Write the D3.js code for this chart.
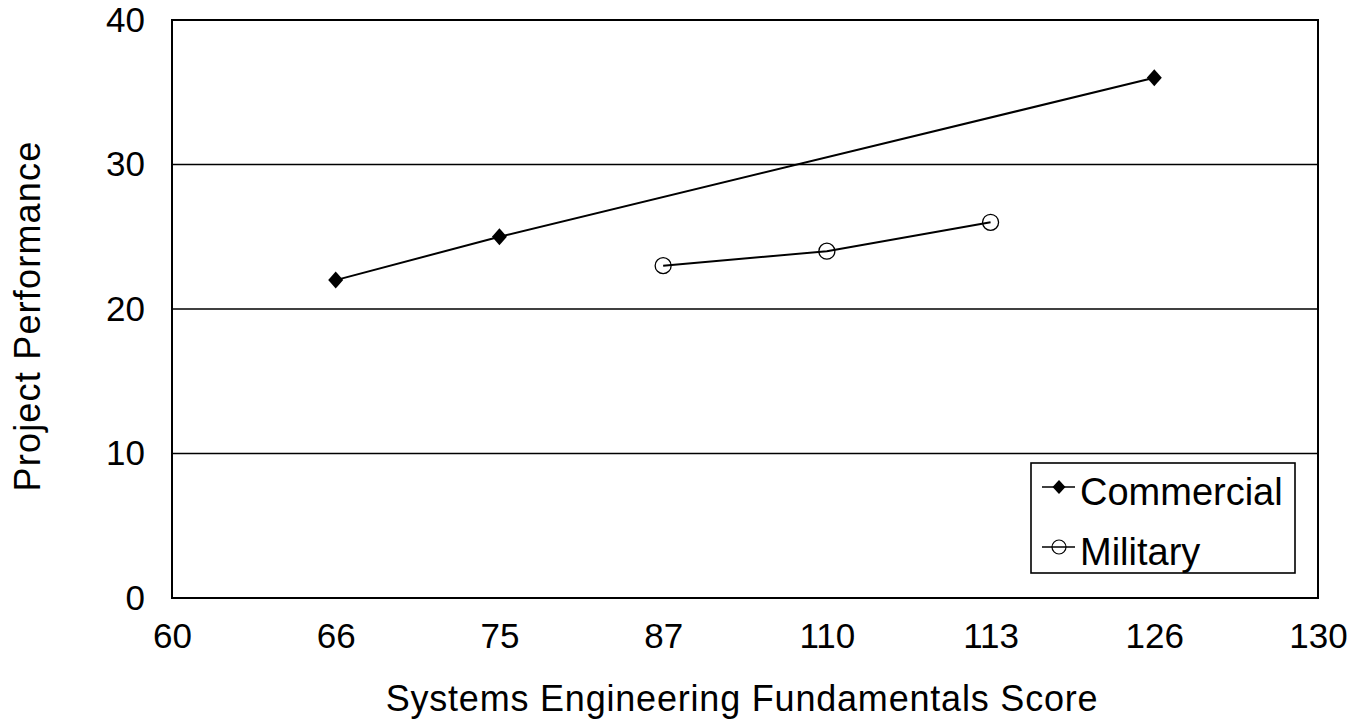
<!DOCTYPE html>
<html><head><meta charset="utf-8">
<script src="https://cdn.jsdelivr.net/npm/d3@7"></script>
<style>body{margin:0;background:#fff}svg{display:block}text{font-family:"Liberation Sans",Arial,sans-serif;fill:#000}</style>
</head><body>
<svg id="c" width="1354" height="722"></svg>
<script>
const categories = ["60","66","75","87","110","113","126","130"];
const commercialX = ["66","75","126"];
const commercialY = [22,25,36];
const militaryX = ["87","110","113"];
const militaryY = [23,24,26];
const yTicks = [0,10,20,30,40];
const seriesNames = ["Commercial","Military"];

const svg = d3.select("#c");
const m = {l:172, r:1318, t:20, b:598};
const x = d3.scalePoint().domain(categories).range([m.l, m.r]).padding(0);
const y = d3.scaleLinear().domain([0,40]).range([m.b, m.t]);

const diamondType = (hw, hh) => ({draw(ctx){ctx.moveTo(0,-hh);ctx.lineTo(hw,0);ctx.lineTo(0,hh);ctx.lineTo(-hw,0);ctx.closePath();}});

// gridlines
svg.append("g").selectAll("line").data(yTicks.filter(d=>d>0&&d<40)).join("line")
  .attr("x1", m.l).attr("x2", m.r).attr("y1", d=>y(d)).attr("y2", d=>y(d))
  .attr("stroke","#000").attr("stroke-width",1.6);
// frame
svg.append("rect").attr("x",m.l).attr("y",m.t).attr("width",m.r-m.l).attr("height",m.b-m.t)
  .attr("fill","none").attr("stroke","#000").attr("stroke-width",2);

// axes
const yAxis = svg.append("g").attr("transform",`translate(${m.l},0)`)
  .call(d3.axisLeft(y).tickValues(yTicks).tickSize(0).tickPadding(27));
yAxis.select(".domain").remove();
yAxis.selectAll("text").attr("font-size",35).attr("font-family","Liberation Sans, Arial, sans-serif");
const xAxis = svg.append("g").attr("transform",`translate(0,${m.b})`)
  .call(d3.axisBottom(x).tickSize(0).tickPadding(25));
xAxis.select(".domain").remove();
xAxis.selectAll("text").attr("font-size",35).attr("font-family","Liberation Sans, Arial, sans-serif");

// titles
svg.append("text").attr("x",742).attr("y",711).attr("text-anchor","middle")
  .attr("font-size",36).attr("letter-spacing",0.8).text("Systems Engineering Fundamentals Score");
svg.append("text").attr("transform",`translate(40,316) rotate(-90)`).attr("text-anchor","middle")
  .attr("font-size",36).attr("letter-spacing",1.2).text("Project Performance");

const line = d3.line().x(d=>x(d[0])).y(d=>y(d[1]));
const com = commercialX.map((c,i)=>[c,commercialY[i]]);
const mil = militaryX.map((c,i)=>[c,militaryY[i]]);

// military markers (under line)
svg.append("g").selectAll("circle").data(mil).join("circle")
  .attr("cx",d=>x(d[0])).attr("cy",d=>y(d[1])).attr("r",8)
  .attr("fill","none").attr("stroke","#000").attr("stroke-width",1.3);
svg.append("path").datum(mil).attr("d",line).attr("fill","none").attr("stroke","#000").attr("stroke-width",2);
svg.append("path").datum(com).attr("d",line).attr("fill","none").attr("stroke","#000").attr("stroke-width",2);
svg.append("g").selectAll("path").data(com).join("path")
  .attr("transform",d=>`translate(${x(d[0])},${y(d[1])})`)
  .attr("d", d3.symbol().type(diamondType(7.5,8.5))()).attr("fill","#000");

// legend
const lg = svg.append("g");
lg.append("rect").attr("x",1031).attr("y",463).attr("width",264).attr("height",110)
  .attr("fill","#fff").attr("stroke","#000").attr("stroke-width",1.6);
const ly = [487, 547];
seriesNames.forEach((n,i)=>{
  lg.append("line").attr("x1",1042).attr("x2",1075).attr("y1",ly[i]).attr("y2",ly[i]).attr("stroke","#000").attr("stroke-width",1.6);
  if(i===0){
    lg.append("path").attr("transform",`translate(1059,${ly[i]})`)
      .attr("d", d3.symbol().type(diamondType(6.5,7))()).attr("fill","#000");
  } else {
    lg.append("circle").attr("cx",1059).attr("cy",ly[i]).attr("r",7).attr("fill","none").attr("stroke","#000").attr("stroke-width",1.2);
  }
  lg.append("text").attr("x",1080).attr("y",ly[i]+18).attr("font-size",38).text(n);
});
</script>
</body></html>
